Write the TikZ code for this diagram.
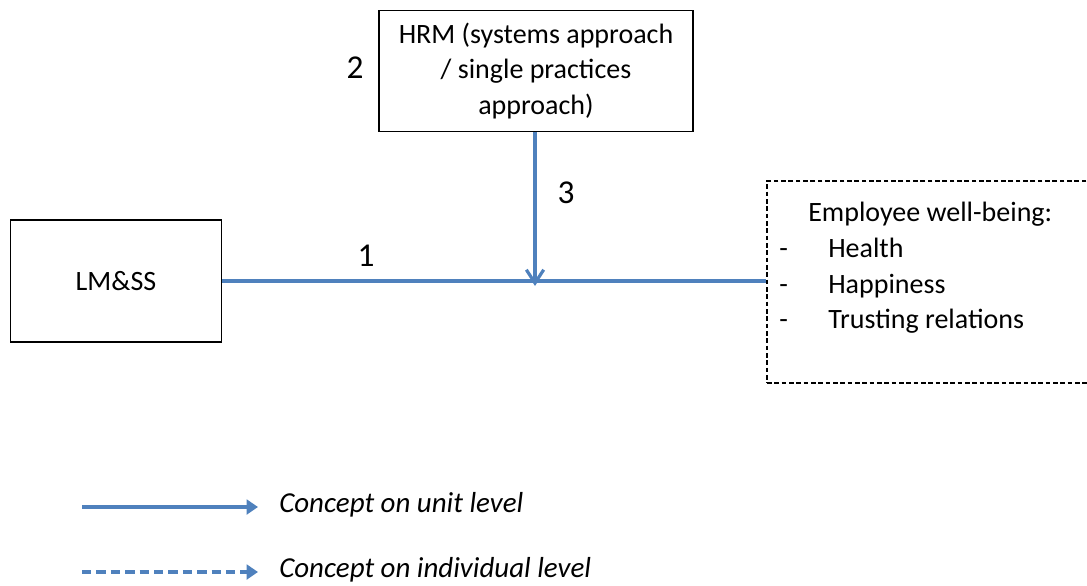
\documentclass[tikz,border=0pt]{standalone}
\usepackage{fontspec}
\setmainfont{Carlito}
\usetikzlibrary{arrows.meta}
\definecolor{linkblue}{HTML}{4F81BD}
\begin{document}
\begin{tikzpicture}[x=0.75pt,y=-0.75pt,
  font=\fontsize{21}{26.6}\selectfont,
  box/.style={draw=black,line width=1.3pt,fill=white,align=center,inner sep=0pt},
  dashbox/.style={draw=black,line width=1pt,dash pattern=on 3.5pt off 2pt},
  link/.style={draw=linkblue,line width=2.4pt},
  cue/.style={inner sep=0pt,anchor=base west},
  legendtext/.style={inner sep=0pt,anchor=west,font=\fontsize{21.7}{26}\selectfont\itshape},
  num/.style={inner sep=0pt,font=\fontsize{25}{30}\selectfont}]
\useasboundingbox (0,0) rectangle (1087,585);

% boxes (sizes in pt: 1 unit = 0.75pt)
\node[box,minimum width=235.5pt,minimum height=90.75pt] (hrm) at (536,71)
  {HRM (systems approach\\ / single practices\\ approach)};
\node[box,minimum width=158.25pt,minimum height=91.5pt] (lmss) at (116,281) {LM\&SS};
\node[dashbox,minimum width=247.5pt,minimum height=151.5pt,inner sep=0pt] (emp) at (932,282) {};

% well-being list
\node[cue] (wbh) at (808,221) {Employee well-being:};
\node[cue] (d1) at (779,257) {-};
\node[cue] (i1) at (828,257) {Health};
\node[cue] (d2) at (779,293) {-};
\node[cue] (i2) at (828,293) {Happiness};
\node[cue] (d3) at (779,328) {-};
\node[cue] (i3) at (828,328) {Trusting relations};

% relations
\coordinate (join) at (535,282);
\draw[link] (lmss.east) -- (lmss.east -| emp.west);
\draw[link,-{Straight Barb[length=10pt,width=13pt]}]
  (hrm.south -| join) -- ([yshift=-3]join);

\node[num] (n1) at (366,256) {1};
\node[num] (n2) at (355,68) {2};
\node[num] (n3) at (566,193) {3};

% legend
\coordinate (la) at (82,507);
\coordinate (lb) at (258,507);
\coordinate (lc) at (82,572);
\coordinate (ld) at (258,572);
\draw[link,-{Triangle[length=8.5pt,width=11pt]}] (la) -- (lb);
\draw[link,dash pattern=on 7pt off 3.8pt,-{Triangle[length=8.5pt,width=11pt]}] (lc) -- (ld);
\node[legendtext] (t1) at (279,505) {Concept on unit level};
\node[legendtext] (t2) at (279,570) {Concept on individual level};
\end{tikzpicture}
\end{document}
